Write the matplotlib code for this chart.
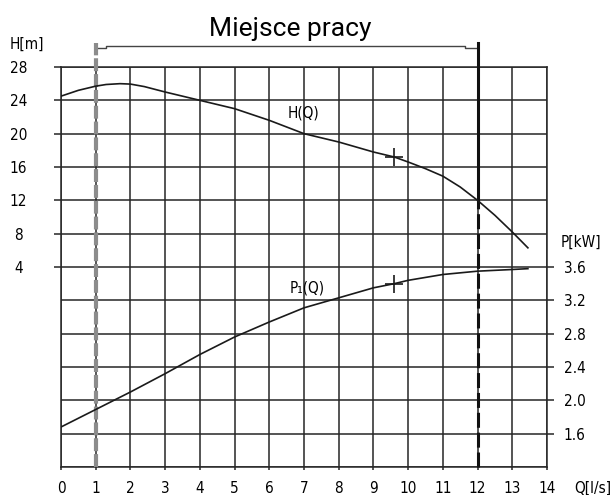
import matplotlib
matplotlib.use("Agg")
import matplotlib.pyplot as plt
from matplotlib import font_manager
from matplotlib.ticker import FixedLocator, MultipleLocator

# --- data ---
Q_H = [0, 0.5, 1, 1.3, 1.7, 2, 2.4, 3, 4, 5, 6, 7, 8, 9, 9.6, 10, 10.5, 11, 11.5, 12, 12.5, 13, 13.45]
H = [24.5, 25.2, 25.7, 25.9, 26.0, 25.95, 25.65, 25.0, 24.0, 23.0, 21.6, 20.0, 19.0, 17.8, 17.2,
     16.6, 15.8, 14.9, 13.6, 12.0, 10.2, 8.2, 6.3]

Q_P = [0, 1, 2, 3, 4, 5, 6, 7, 8, 9, 9.6, 10, 11, 12, 13, 13.45]
P = [1.68, 1.89, 2.10, 2.32, 2.55, 2.76, 2.94, 3.11, 3.23, 3.35, 3.40, 3.44, 3.51, 3.55, 3.57, 3.58]

Q_TICKS = list(range(0, 15))
H_TICKS = [4, 8, 12, 16, 20, 24, 28]
P_TICKS = [1.6, 2.0, 2.4, 2.8, 3.2, 3.6]

WORK_START, WORK_END = 1, 12
MARK_Q, MARK_H, MARK_P = 9.6, 17.2, 3.40

# a narrow face for the drawing-style labels, if one is around
condensed = [f for f in font_manager.fontManager.ttflist
             if f.name == 'DejaVu Sans' and f.stretch == 'condensed' and f.weight in (400, 'normal')]
if condensed:
    LAB = dict(family=['DejaVu Sans'], fontstretch='condensed', fontsize=11)
else:
    LAB = dict(family=['Roboto', 'DejaVu Sans'], fontsize=11)
INK = '#262626'

fig = plt.figure(figsize=(6.16, 4.95), dpi=100)
ax = fig.add_axes([61 / 616, 1 - 467 / 495, 486 / 616, 400 / 495])

ax.set_xlim(0, 14)
ax.set_ylim(-20, 28)

ax.xaxis.set_major_locator(FixedLocator(Q_TICKS))
ax.set_xticklabels([str(q) for q in Q_TICKS], **LAB)
ax.yaxis.set_major_locator(FixedLocator(H_TICKS))
ax.yaxis.set_minor_locator(MultipleLocator(4))
ax.set_yticklabels([str(h) for h in H_TICKS], **LAB)
for lab in ax.get_yticklabels():
    lab.set_horizontalalignment('center')

ax.tick_params(axis='y', which='major', direction='out', length=5, width=1.1, color=INK, pad=25.5)
ax.tick_params(axis='y', which='minor', length=0)
ax.tick_params(axis='x', direction='out', length=2.2, width=1.1, color=INK, pad=8)
ax.grid(True, which='both', color=INK, lw=1.1)
for sp in ax.spines.values():
    sp.set_color(INK)
    sp.set_linewidth(1.1)

ax2 = ax.twinx()
ax2.set_ylim(1.2, 6.0)
ax2.yaxis.set_major_locator(FixedLocator(P_TICKS))
ax2.set_yticklabels([f"{p:.1f}" for p in P_TICKS], **LAB)
ax2.tick_params(axis='y', direction='out', length=5, width=1.1, color=INK, pad=7)
for sp in ax2.spines.values():
    sp.set_visible(False)

# curves
ax.plot(Q_H, H, color='#1a1a1a', lw=1.2, zorder=5)
ax2.plot(Q_P, P, color='#1a1a1a', lw=1.2, zorder=5)
ax.plot([MARK_Q], [MARK_H], marker='+', ms=13, mew=1.2, color='#1a1a1a')
ax2.plot([MARK_Q], [MARK_P], marker='+', ms=13, mew=1.2, color='#1a1a1a')

ax.text(6.54, 22.5, 'H(Q)', va='center', ha='left', **LAB)
ax2.text(6.6, 3.35, 'P₁(Q)', va='center', ha='left', **LAB)

# working range
ax.plot([WORK_START, WORK_START], [-20, 30.9], color='#8c8c8c', lw=3,
        dashes=(3.1, 0.7), clip_on=False, zorder=4)
ax.plot([WORK_END, WORK_END], [12, 30.9], color='#111111', lw=2.2,
        clip_on=False, zorder=4)
ax.plot([WORK_END, WORK_END], [-20, 12], color='#111111', lw=2.2,
        dashes=(4.9, 1.6), clip_on=False, zorder=4)
ax.plot([WORK_START, WORK_START + 0.3, WORK_START + 0.3, WORK_END - 0.35, WORK_END - 0.35, WORK_END],
        [30.3, 30.3, 30.55, 30.55, 30.3, 30.3], color='#444444', lw=1.0, clip_on=False)

fig.text(290 / 616, 1 - 36 / 495, 'Miejsce pracy', family=['Roboto', 'DejaVu Sans'], fontsize=19,
         ha='center', va='baseline')
fig.text(27 / 616, 1 - 44 / 495, 'H[m]', ha='center', va='center', **LAB)
fig.text(581 / 616, 1 - 242 / 495, 'P[kW]', ha='center', va='center', **LAB)
fig.text(593 / 616, 1 - 488 / 495, 'Q[l/s]', ha='center', va='center', **LAB)

fig.savefig('out.png', dpi=100)
